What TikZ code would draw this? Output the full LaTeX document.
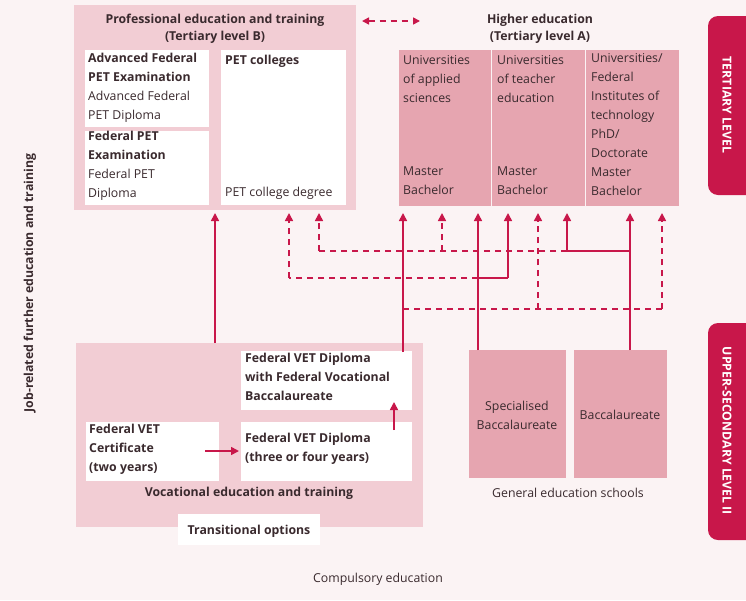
\documentclass[tikz,border=0pt]{standalone}
\usepackage{fontspec}
\setmainfont{Open Sans}
\usetikzlibrary{arrows.meta}
\definecolor{bg}{HTML}{FBF3F4}
\definecolor{lt}{HTML}{F2CDD4}
\definecolor{md}{HTML}{E6A5B0}
\definecolor{rd}{HTML}{C8174A}
\definecolor{tx}{HTML}{3A2A2E}
\begin{document}
\begin{tikzpicture}[x=1pt,y=-1pt,font=\fontsize{12.3}{19}\selectfont,text=tx,
  cont/.style={fill=lt,draw=none},
  wbox/.style={fill=white,draw=none},
  mbox/.style={fill=md,draw=none},
  tab/.style={fill=rd,draw=none,rounded corners=10pt},
  lbl/.style={inner sep=0pt,align=left,anchor=north west},
  hd/.style={font=\fontsize{12.3}{17}\selectfont\bfseries},
  conn/.style={draw=rd,line width=1.6pt,-{Triangle[length=8pt,width=8pt]}},
  dconn/.style={conn,dashed,dash pattern=on 6pt off 5pt},
  dline/.style={draw=rd,line width=1.6pt,dashed,dash pattern=on 6pt off 5pt},
  sline/.style={draw=rd,line width=1.6pt}]
\useasboundingbox (0,0) rectangle (746,600);
\fill[bg] (0,0) rectangle (746,600);
% containers
\path[cont] (74,5) rectangle (356,210);
\path[cont] (76,343) rectangle (423,527);
\path[wbox] (85,50) rectangle (209,127);
\path[wbox] (85,131) rectangle (209,205);
\path[wbox] (221,50) rectangle (346,205);
\path[mbox] (399,50) rectangle (491,206);
\path[mbox] (492,50) rectangle (585,206);
\path[mbox] (586,50) rectangle (679,206);
\path[wbox] (241,351) rectangle (412,410);
\path[wbox] (86,422) rectangle (219,481);
\path[wbox] (241,422) rectangle (412,481);
\path[wbox] (178,514) rectangle (320,545);
\path[mbox] (469,350) rectangle (566,478);
\path[mbox] (574,350) rectangle (667,478);
\path[tab] (708,16) rectangle (760,195);
\path[tab] (708,323) rectangle (760,540);
% texts
\node[align=center,hd] (pet) at (215,29) {Professional education and training\\(Tertiary level B)};
\node[align=center,hd] (he) at (540,29) {Higher education\\(Tertiary level A)};
\node[lbl] (adv) at (88,53) {\textbf{Advanced Federal}\\\textbf{PET Examination}\\Advanced Federal\\PET Diploma};
\node[lbl] (fpe) at (88,131) {\textbf{Federal PET}\\\textbf{Examination}\\Federal PET\\Diploma};
\node[lbl] (pc) at (225,55) {\textbf{PET colleges}};
\node[lbl] (pcd) at (225,187) {PET college degree};
\node[lbl] (uas) at (403,55) {Universities\\of applied\\sciences};
\node[lbl] (ute) at (497,55) {Universities\\of teacher\\education};
\node[lbl] (ufi) at (591,53) {Universities/\\Federal\\Institutes of\\technology\\PhD/\\Doctorate\\Master\\Bachelor};
\node[lbl] at (403,167) {Master\\Bachelor};
\node[lbl] at (497,167) {Master\\Bachelor};
\node[lbl] (vb) at (245,353) {\textbf{Federal VET Diploma}\\\textbf{with Federal Vocational}\\\textbf{Baccalaureate}};
\node[lbl] (vc) at (89,424) {\textbf{Federal VET}\\\textbf{Certificate}\\\textbf{(two years)}};
\node[lbl] (vd) at (245,433) {\textbf{Federal VET Diploma}\\\textbf{(three or four years)}};
\node[hd] (vet) at (249,493) {Vocational education and training};
\node[hd] (tr) at (249,531) {Transitional options};
\node[align=center] (sb) at (517,415) {Specialised\\Baccalaureate};
\node (ba) at (620,415) {Baccalaureate};
\node (ges) at (568,493) {General education schools};
\node (ce) at (378,579) {Compulsory education};
\node[rotate=90,hd] (job) at (30,283) {Job-related further education and training};
\node[rotate=-90,text=white,hd] (tl) at (727,105) {TERTIARY LEVEL};
\node[rotate=-90,text=white,hd] (ul) at (727,431) {UPPER-SECONDARY LEVEL II};
% connectors
\coordinate (a1) at (362,21); \coordinate (a2) at (420,21);
\draw[dconn,{Triangle[length=7pt,width=7pt]}-{Triangle[length=7pt,width=7pt]}] (a1) -- (a2);
\draw[conn] (215,343) -- (215,213);
\draw[conn] (205,451) -- (239,451);
\draw[conn] (394,430) -- (394,402);
\draw[conn] (403,352) -- (403,213);
\draw[conn] (478,350) -- (478,213);
\draw[sline] (478,278) -- (508,278);
\draw[conn] (508,278) -- (508,213);
\draw[dline] (478,278) -- (289,278);
\draw[dconn] (289,278) -- (289,213);
\draw[conn] (630,350) -- (630,213);
\draw[sline] (630,251) -- (567,251);
\draw[conn] (567,251) -- (567,213);
\draw[dline] (567,251) -- (319,251);
\draw[dconn] (319,251) -- (319,213);
\draw[dconn] (442,251) -- (442,213);
\draw[dline] (403,309) -- (662,309);
\draw[dconn] (538,309) -- (538,213);
\draw[dconn] (662,309) -- (662,213);
\end{tikzpicture}
\end{document}
